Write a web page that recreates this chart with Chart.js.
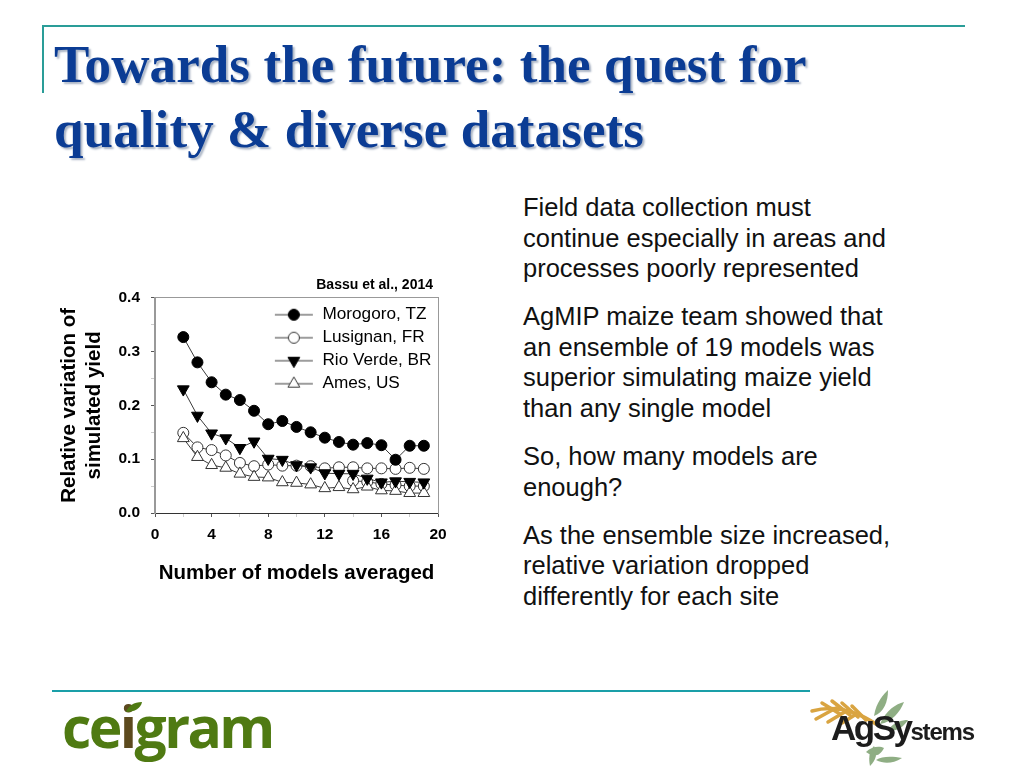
<!DOCTYPE html>
<html>
<head>
<meta charset="utf-8">
<title>Towards the future</title>
<script src="https://cdn.jsdelivr.net/npm/chart.js@4"></script>
<style>
  html, body { margin: 0; padding: 0; background: #fff; }
  body { width: 1024px; height: 768px; position: relative; overflow: hidden; font-family: "Liberation Sans", Arial, sans-serif; }
  .rule { position: absolute; }
  .title { position: absolute; left: 54px; font: bold 53px "Liberation Serif", serif; color: #0b3c94; white-space: nowrap; text-shadow: 2px 2px 2px #aab4c4; letter-spacing: 0.1px; line-height: 64px; }
  .body-line { position: absolute; left: 523px; font-size: 25.5px; line-height: 30px; color: #111; white-space: nowrap; }
  #chartWrap { position: absolute; left: 40px; top: 270px; width: 420px; height: 330px; }
  #cegram { position: absolute; left: 62px; top: 688px; font: 700 57px "Open Sans", sans-serif; color: #4f7a12; letter-spacing: -2.6px; line-height: 76px; white-space: nowrap; }
  #cegram span { color: #5c4a1e; }
  #agsystems { position: absolute; left: 831px; top: 708px; font: bold 35px "Liberation Sans", sans-serif; color: #1c1c1c; letter-spacing: -2.5px; line-height: 40px; white-space: nowrap; }
  #agsystems small { font-size: 24px; letter-spacing: -1.2px; }
  svg.deco { position: absolute; left: 0; top: 0; }
</style>
</head>
<body>
<div class="rule" style="left:42px;top:25px;width:923px;height:2px;background:#2a9d98"></div>
<div class="rule" style="left:42px;top:25px;width:2px;height:68px;background:#2a9d98"></div>
<div class="rule" style="left:52px;top:690px;width:758px;height:2px;background:#1a9fa8"></div>

<div class="title" style="top:32px">Towards the future: the quest for</div>
<div class="title" style="top:97px">quality &amp; diverse datasets</div>

<div class="body-line" style="top:192px">Field data collection must</div>
<div class="body-line" style="top:223px">continue especially in areas and</div>
<div class="body-line" style="top:253px">processes poorly represented</div>
<div class="body-line" style="top:301px">AgMIP maize team showed that</div>
<div class="body-line" style="top:332px">an ensemble of 19 models was</div>
<div class="body-line" style="top:362px">superior simulating maize yield</div>
<div class="body-line" style="top:393px">than any single model</div>
<div class="body-line" style="top:441px">So, how many models are</div>
<div class="body-line" style="top:472px">enough?</div>
<div class="body-line" style="top:520px">As the ensemble size increased,</div>
<div class="body-line" style="top:550px">relative variation dropped</div>
<div class="body-line" style="top:581px">differently for each site</div>

<div id="chartWrap"><canvas id="yieldChart" width="420" height="330"></canvas></div>

<svg class="deco" width="1024" height="768">
  <!-- wheat and leaves behind AgSystems -->
  <g stroke="#d9a441" stroke-width="3.5" fill="none" stroke-linecap="round">
    <path d="M812 711 C830 706 852 708 876 724"/>
    <path d="M822 703 L840 714"/><path d="M832 701 L850 715"/><path d="M842 703 L858 717"/><path d="M852 706 L866 720"/>
    <path d="M816 719 L836 708"/><path d="M828 722 L848 710"/><path d="M842 723 L858 713"/>
  </g>
  <g fill="#8fae84">
    <path d="M874 716 C876 702 884 694 888 690 C888 702 884 712 874 716Z"/>
    <path d="M880 724 C886 710 896 704 904 702 C900 712 892 722 880 724Z"/>
    <path d="M888 730 C894 722 902 720 908 720 C904 726 898 732 888 730Z"/>
    <path d="M866 752 C872 746 880 746 884 748 C880 756 874 758 866 752Z"/>
    <path d="M876 760 C882 756 892 756 902 758 C892 764 884 764 876 760Z"/>
    <path d="M870 766 C868 756 870 750 874 746 C878 754 876 760 870 766Z"/>
  </g>
</svg>
<div id="cegram">ce<span>i</span>gram</div>
<div id="agsystems">AgSy<small>stems</small></div>
<svg class="deco" width="1024" height="768">
  <!-- cegram sprout -->
  <path d="M126 712 C128 706 134 702 142 702 C141 708 135 712 126 712Z" fill="#4f7a12"/>
</svg>

<script>
const modelCounts = [2, 3, 4, 5, 6, 7, 8, 9, 10, 11, 12, 13, 14, 15, 16, 17, 18, 19];
const morogoro = [0.327, 0.280, 0.243, 0.220, 0.210, 0.190, 0.165, 0.171, 0.160, 0.150, 0.140, 0.132, 0.127, 0.130, 0.126, 0.099, 0.125, 0.125];
const lusignan = [0.149, 0.122, 0.117, 0.107, 0.093, 0.087, 0.090, 0.088, 0.088, 0.087, 0.083, 0.085, 0.085, 0.083, 0.083, 0.082, 0.084, 0.082];
const rioVerde = [0.230, 0.181, 0.148, 0.139, 0.121, 0.133, 0.101, 0.099, 0.089, 0.085, 0.074, 0.073, 0.073, 0.064, 0.057, 0.059, 0.058, 0.057];
const ames = [0.139, 0.104, 0.089, 0.084, 0.073, 0.067, 0.066, 0.057, 0.056, 0.053, 0.046, 0.048, 0.044, 0.049, 0.042, 0.041, 0.037, 0.037];
// circles hiding behind the triangles, not in the original legend
const hiddenCircles = [null, null, null, null, null, null, null, null, null, null, null, null, 0.060, 0.058, 0.054, 0.052, 0.050, 0.050];
const seriesNames = ['Morogoro, TZ', 'Lusignan, FR', 'Rio Verde, BR', 'Ames, US'];
const xTicksLabelled = [0, 4, 8, 12, 16, 20];
const citation = 'Bassu et al., 2014';
const xTitle = 'Number of models averaged';
const yTitle = ['Relative variation of', 'simulated yield'];

const LINE = '#3a3a3a';

function pairUp(values) {
    return modelCounts.map((x, i) => ({ x: x, y: values[i] }));
}

function makeSeries(label, values, style, fill, rotation, order) {
    return {
        label: label,
        data: pairUp(values),
        order: order,
        borderColor: LINE,
        borderWidth: 1,
        tension: 0,
        pointStyle: style,
        pointRotation: rotation,
        pointRadius: style === 'circle' ? 5.5 : 6.8,
        pointBackgroundColor: fill,
        pointBorderColor: fill === '#000' ? '#000' : '#333',
        pointBorderWidth: 1
    };
}

// small picture of line + marker for a legend row
function legendIcon(style, fill, rotation) {
    const c = document.createElement('canvas');
    c.width = 40;
    c.height = 16;
    const g = c.getContext('2d');
    g.strokeStyle = LINE;
    g.lineWidth = 1;
    g.beginPath();
    g.moveTo(1, 8);
    g.lineTo(39, 8);
    g.stroke();
    g.fillStyle = fill;
    g.strokeStyle = fill === '#000' ? '#000' : '#333';
    Chart.helpers.drawPoint(g, {
        pointStyle: style,
        radius: style === 'circle' ? 5.5 : 6.8,
        rotation: rotation,
        borderWidth: 1
    }, 20, 8);
    return c;
}

const legendIcons = [
    legendIcon('circle', '#000', 0),
    legendIcon('circle', '#fff', 0),
    legendIcon('triangle', '#000', 180),
    legendIcon('triangle', '#fff', 0)
];

const nudgeBoxes = {
    id: 'nudgeBoxes',
    beforeDraw(chart) {
        chart.legend.left = chart.scales.x.getPixelForValue(7.99);
        chart.legend.top = chart.chartArea.top + 2.5;
        chart.titleBlock.left -= 5;
        chart.titleBlock.right -= 5;
    }
};

new Chart(document.getElementById('yieldChart'), {
    type: 'line',
    data: {
        datasets: [
            makeSeries(seriesNames[0], morogoro, 'circle', '#000', 0, 0),
            makeSeries(seriesNames[1], lusignan, 'circle', '#fff', 0, 3),
            makeSeries(seriesNames[2], rioVerde, 'triangle', '#000', 180, 1),
            makeSeries(seriesNames[3], ames, 'triangle', '#fff', 0, 2),
            makeSeries('', hiddenCircles, 'circle', '#fff', 0, 4)
        ]
    },
    options: {
        responsive: false,
        animation: false,
        layout: { padding: { left: 13, right: 22, top: 1, bottom: 0 } },
        plugins: {
            tooltip: { enabled: false },
            title: {
                display: true,
                text: citation,
                align: 'end',
                fullSize: false,
                color: '#000',
                font: { family: 'Liberation Sans', size: 14, weight: 'bold' },
                padding: { top: 6, bottom: 4 }
            },
            legend: {
                position: 'chartArea',
                align: 'start',
                labels: {
                    usePointStyle: true,
                    pointStyleWidth: 40,
                    color: '#111',
                    padding: 5.8,
                    font: { family: 'Liberation Sans', size: 17.2 },
                    generateLabels: () => seriesNames.map((name, i) => ({
                        text: name,
                        pointStyle: legendIcons[i],
                        datasetIndex: i,
                        lineWidth: 0
                    }))
                }
            }
        },
        scales: {
            x: {
                type: 'linear',
                min: 0,
                max: 20,
                afterFit(scale) { scale.height = 87; },
                border: { color: '#333', width: 1 },
                grid: {
                    drawOnChartArea: false,
                    tickLength: 4,
                    tickColor: ctx => xTicksLabelled.includes(ctx.tick.value) ? '#555' : '#ccc'
                },
                ticks: {
                    stepSize: 2,
                    autoSkip: false,
                    maxRotation: 0,
                    padding: 8,
                    color: '#000',
                    font: { family: 'Liberation Sans', size: 15.5, weight: 'bold' },
                    callback: v => xTicksLabelled.includes(v) ? String(v) : ''
                },
                title: {
                    display: true,
                    text: xTitle,
                    color: '#000',
                    font: { family: 'Liberation Sans', size: 20.5, weight: 'bold' },
                    padding: { top: 18, bottom: 14 }
                }
            },
            y: {
                min: 0,
                max: 0.4,
                afterFit(scale) { scale.width = 102; },
                border: { color: '#999', width: 2 },
                grid: {
                    drawOnChartArea: false,
                    tickLength: 4,
                    tickColor: ctx => Math.abs(ctx.tick.value * 10 % 1) < 0.01 || Math.abs(ctx.tick.value * 10 % 1) > 0.99 ? '#555' : '#ccc'
                },
                ticks: {
                    stepSize: 0.05,
                    autoSkip: false,
                    padding: 11,
                    color: '#000',
                    font: { family: 'Liberation Sans', size: 15.5, weight: 'bold' },
                    callback: v => Math.round(v * 100) % 10 === 0 ? v.toFixed(1) : ''
                },
                title: {
                    display: true,
                    text: yTitle,
                    color: '#000',
                    font: { family: 'Liberation Sans', size: 20.5, weight: 'bold', lineHeight: 1.22 },
                    padding: { top: 4, bottom: 4 }
                }
            },
            xTop: {
                type: 'linear',
                position: 'top',
                min: 0,
                max: 20,
                afterFit(scale) { scale.height = 0; },
                border: { color: '#999', width: 1 },
                grid: { drawOnChartArea: false, drawTicks: false },
                ticks: { display: false }
            },
            yRight: {
                position: 'right',
                min: 0,
                max: 0.4,
                afterFit(scale) { scale.width = 0; },
                border: { color: '#999', width: 1 },
                grid: { drawOnChartArea: false, drawTicks: false },
                ticks: { display: false }
            }
        }
    },
    plugins: [nudgeBoxes]
});
</script>
</body>
</html>
